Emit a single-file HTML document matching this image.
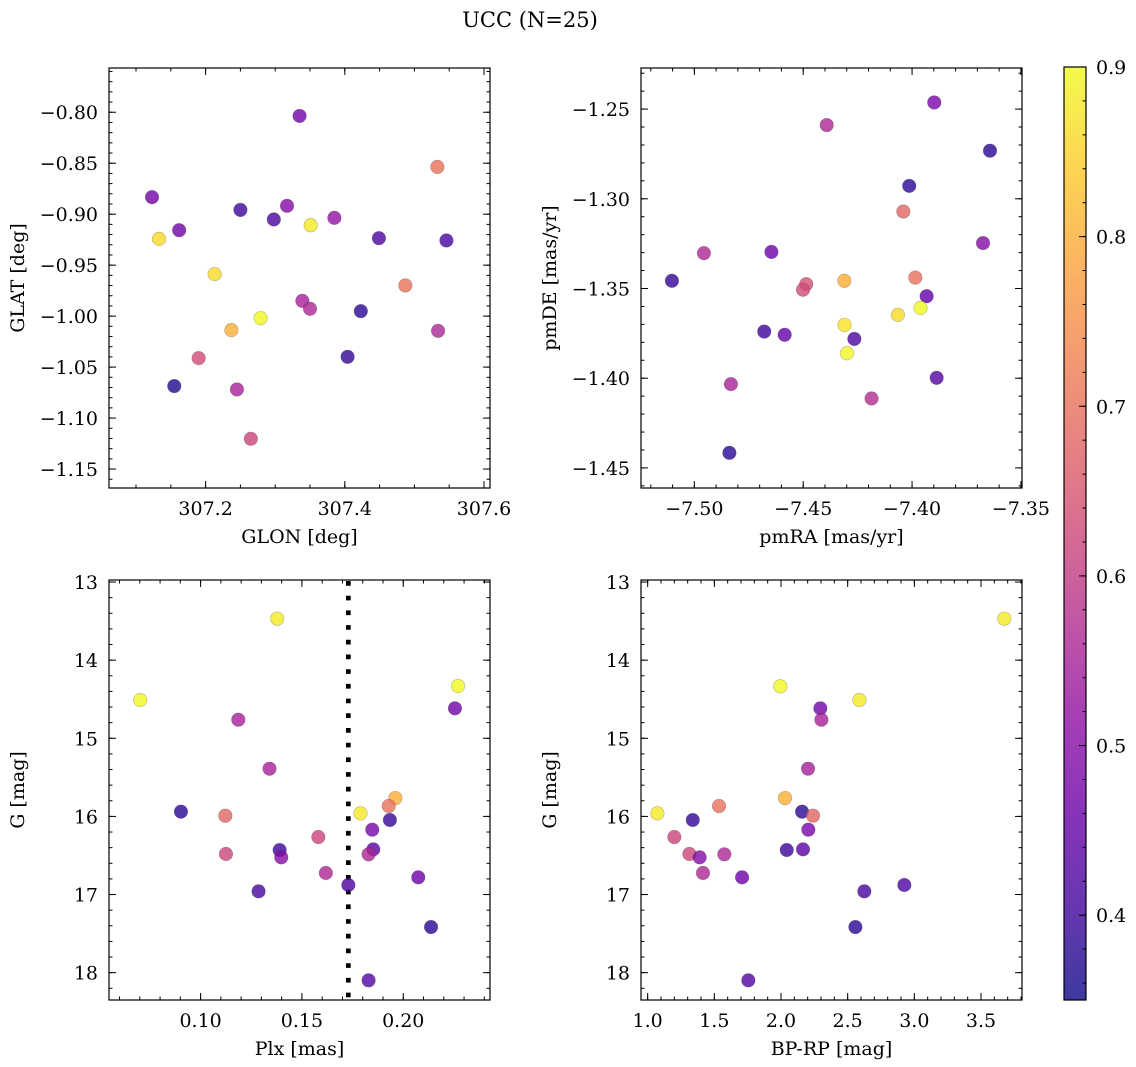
<!DOCTYPE html>
<html><head><meta charset="utf-8"><style>
html,body{margin:0;padding:0;background:#fff;}
svg{display:block;font-family:"DejaVu Serif","Liberation Serif",serif;}
</style></head><body>
<svg id="fig" width="1136" height="1067" viewBox="0 0 1136 1067" xmlns="http://www.w3.org/2000/svg">
<text x="530" y="27" font-size="21" text-anchor="middle">UCC (N=25)</text>
</svg>
<script>
// ---- data ----
const glon = [307.335,307.533,307.123,307.250,307.317,307.298,307.351,307.385,307.133,307.162,307.449,307.546,307.213,307.487,307.339,307.350,307.423,307.279,307.237,307.534,307.404,307.190,307.155,307.245,307.265];
const glat = [-0.8036,-0.8536,-0.8833,-0.8958,-0.8918,-0.9052,-0.9108,-0.9036,-0.9242,-0.9157,-0.9235,-0.9258,-0.9588,-0.9699,-0.9850,-0.9928,-0.9951,-1.0020,-1.0137,-1.0144,-1.0399,-1.0412,-1.0686,-1.0719,-1.1203];
const probPos = [0.47,0.70,0.47,0.40,0.50,0.42,0.88,0.52,0.86,0.47,0.42,0.41,0.86,0.70,0.55,0.56,0.38,0.90,0.80,0.56,0.39,0.63,0.37,0.55,0.62];

const pmra = [-7.3898,-7.4392,-7.3642,-7.4013,-7.4040,-7.3674,-7.4956,-7.4646,-7.5103,-7.4486,-7.4501,-7.4311,-7.3985,-7.3933,-7.3961,-7.4065,-7.4310,-7.4679,-7.4585,-7.4265,-7.4299,-7.3887,-7.4832,-7.4186,-7.4839];
const pmde = [-1.2463,-1.2589,-1.2732,-1.2928,-1.3071,-1.3247,-1.3303,-1.3296,-1.3457,-1.3476,-1.3507,-1.3457,-1.3439,-1.3543,-1.3608,-1.3647,-1.3703,-1.3740,-1.3758,-1.3781,-1.3861,-1.3998,-1.4033,-1.4113,-1.4416];
const probPm = [0.48,0.56,0.38,0.38,0.68,0.50,0.56,0.46,0.39,0.64,0.63,0.80,0.70,0.45,0.90,0.86,0.87,0.40,0.45,0.42,0.90,0.43,0.55,0.57,0.38];

const plx = [0.1378,0.0702,0.2270,0.2255,0.1186,0.1340,0.0903,0.1122,0.1961,0.1928,0.1789,0.1934,0.1847,0.1581,0.1125,0.1390,0.1398,0.1852,0.1829,0.1618,0.2074,0.1729,0.1286,0.2137,0.1829];
const gPlx = [13.469,14.510,14.331,14.617,14.762,15.389,15.939,15.991,15.765,15.867,15.961,16.046,16.170,16.264,16.481,16.430,16.524,16.422,16.485,16.724,16.780,16.878,16.959,17.416,18.098];
const probPlx = [0.88,0.90,0.90,0.47,0.55,0.55,0.38,0.68,0.80,0.70,0.88,0.39,0.48,0.62,0.62,0.40,0.50,0.44,0.56,0.56,0.46,0.42,0.41,0.38,0.43];
const plxMedian = 0.1729;

const bprp = [3.675,1.995,2.588,2.295,2.303,2.203,1.073,1.535,2.030,2.158,2.240,1.338,2.205,1.200,1.313,2.043,1.390,2.165,1.575,1.415,1.708,2.925,2.625,2.558,1.755];
const gCmd = [13.469,14.335,14.510,14.617,14.762,15.389,15.961,15.867,15.765,15.939,15.991,16.046,16.170,16.264,16.481,16.430,16.524,16.422,16.485,16.724,16.780,16.878,16.959,17.416,18.098];
const probCmd = [0.88,0.90,0.88,0.47,0.55,0.55,0.88,0.70,0.80,0.38,0.68,0.39,0.48,0.62,0.62,0.40,0.50,0.44,0.56,0.56,0.46,0.42,0.41,0.38,0.43];

const cbTicks = [0.4,0.5,0.6,0.7,0.8,0.9];
const cbMin = 0.35, cbMax = 0.9;

// ---- helpers ----
const NS = "http://www.w3.org/2000/svg";
const svg = document.getElementById('fig');
function mk(tag, attrs, parent){const e=document.createElementNS(NS,tag);for(const k in attrs)e.setAttribute(k,attrs[k]);(parent||svg).appendChild(e);return e;}
const plasmaStops = ["#0d0887","#41049d","#6a00a8","#8f0da4","#b12a90","#cc4778","#e16462","#f2844b","#fca636","#fcce25","#f0f921"];
function hex(h){return [parseInt(h.substr(1,2),16),parseInt(h.substr(3,2),16),parseInt(h.substr(5,2),16)];}
function plasma(t){t=Math.max(0,Math.min(1,t));const s=t*10;const i=Math.min(9,Math.floor(s));const f=s-i;const a=hex(plasmaStops[i]),b=hex(plasmaStops[i+1]);return "rgb("+a.map((v,k)=>Math.round(v+(b[k]-v)*f)).join(",")+")";}
function cmap(p){return plasma((p-cbMin)/(cbMax-cbMin));}
function fmt(v,d){const s=Math.abs(v).toFixed(d);return (v<0?"\u2212":"")+s;}
const FS = 19;

function panel(o){
  const g=mk('g',{});
  
  
  const X=v=>o.x0+(v-o.xmin)/(o.xmax-o.xmin)*(o.x1-o.x0);
  const Y=v=>o.yInv? o.y0+(v-o.ymin)/(o.ymax-o.ymin)*(o.y1-o.y0) : o.y1-(v-o.ymin)/(o.ymax-o.ymin)*(o.y1-o.y0);
  const eps=1e-9;
  function ticksAlong(axis, step, len, labels, dec){
    const lo=axis==='x'?o.xmin:Math.min(o.ymin,o.ymax), hi=axis==='x'?o.xmax:Math.max(o.ymin,o.ymax);
    let start=Math.ceil((lo-eps)/step)*step;
    for(let v=start; v<=hi+eps; v+=step){
      const vv=Math.round(v/step)*step;
      if(axis==='x'){const x=X(vv);
        mk('line',{x1:x,y1:o.y1,x2:x,y2:o.y1-len,stroke:'#000','stroke-width':1},g);
        mk('line',{x1:x,y1:o.y0,x2:x,y2:o.y0+len,stroke:'#000','stroke-width':1},g);
        if(labels){const t=mk('text',{x:x,y:o.y1+27,'font-size':FS,'text-anchor':'middle'},g);t.textContent=fmt(vv,dec);
          
          }
      } else {const y=Y(vv);
        mk('line',{x1:o.x0,y1:y,x2:o.x0+len,y2:y,stroke:'#000','stroke-width':1},g);
        mk('line',{x1:o.x1,y1:y,x2:o.x1-len,y2:y,stroke:'#000','stroke-width':1},g);
        if(labels){const t=mk('text',{x:o.x0-11,y:y+7,'font-size':FS,'text-anchor':'end'},g);t.textContent=fmt(vv,dec);
          
          }
      }
    }
  }
  ticksAlong('x',o.xminor,3.5,false);
  ticksAlong('x',o.xmajor,7,true,o.xdec);
  ticksAlong('y',o.yminor,3.5,false);
  ticksAlong('y',o.ymajor,7,true,o.ydec);
  if(o.vline!==undefined){
    const l=mk('line',{x1:X(o.vline),y1:o.y0+1,x2:X(o.vline),y2:o.y1,stroke:'#000','stroke-width':4.7,'stroke-dasharray':'4.7 10'},g);
    
    
  }
  for(let i=0;i<o.xs.length;i++){
    const c=mk('circle',{cx:X(o.xs[i]),cy:Y(o.ys[i]),r:6.8,fill:cmap(o.cs[i]),'fill-opacity':0.8,stroke:'rgba(60,60,60,0.35)','stroke-width':0.6},g);
    
    
  }
  const fr=mk('rect',{x:o.x0,y:o.y0,width:o.x1-o.x0,height:o.y1-o.y0,fill:'none',stroke:'#000','stroke-width':1.2},g);
  
  
  const xl=mk('text',{x:(o.x0+o.x1)/2,y:o.y1+55,'font-size':FS,'text-anchor':'middle'},g);xl.textContent=o.xlabel;
  
  
  const yx=o.x0-85, yy=(o.y0+o.y1)/2;
  const yl=mk('text',{x:yx,y:yy,'font-size':FS,'text-anchor':'middle',transform:'rotate(-90 '+yx+' '+yy+')'},g);yl.textContent=o.ylabel;
  
  
}

panel({name:'glon-glat-panel',x0:109,x1:490,y0:68,y1:488,xmin:307.0612,xmax:307.6086,ymin:-1.1686,ymax:-0.7566,
  xmajor:0.2,xminor:0.05,xdec:1,ymajor:0.05,yminor:0.01,ydec:2,xs:glon,ys:glat,cs:probPos,xlabel:'GLON [deg]',ylabel:'GLAT [deg]'});
panel({name:'pm-panel',x0:641,x1:1022,y0:68,y1:488,xmin:-7.5245,xmax:-7.3495,ymin:-1.4612,ymax:-1.2271,
  xmajor:0.05,xminor:0.01,xdec:2,ymajor:0.05,yminor:0.01,ydec:2,xs:pmra,ys:pmde,cs:probPm,xlabel:'pmRA [mas/yr]',ylabel:'pmDE [mas/yr]'});
panel({name:'plx-g-panel',x0:109,x1:490,y0:580,y1:1000,xmin:0.0548,xmax:0.2428,ymin:12.974,ymax:18.35,yInv:true,
  xmajor:0.05,xminor:0.01,xdec:2,ymajor:1,yminor:0.2,ydec:0,xs:plx,ys:gPlx,cs:probPlx,vline:plxMedian,xlabel:'Plx [mas]',ylabel:'G [mag]'});
panel({name:'cmd-panel',x0:641,x1:1022,y0:580,y1:1000,xmin:0.95,xmax:3.8075,ymin:12.974,ymax:18.35,yInv:true,
  xmajor:0.5,xminor:0.1,xdec:1,ymajor:1,yminor:0.2,ydec:0,xs:bprp,ys:gCmd,cs:probCmd,xlabel:'BP-RP [mag]',ylabel:'G [mag]'});

// ---- colorbar ----
(function(){
  const cx0=1064,cx1=1086,cy0=67,cy1=1000;
  const g=mk('g',{});
  
  
  const defs=mk('defs',{},g);
  const lg=mk('linearGradient',{id:'cbg',x1:0,y1:1,x2:0,y2:0},defs);
  for(let i=0;i<=20;i++){mk('stop',{offset:(i/20),'stop-color':plasma(i/20),'stop-opacity':0.8},lg);}
  mk('rect',{x:cx0,y:cy0,width:cx1-cx0,height:cy1-cy0,fill:'url(#cbg)'},g);
  const Y=v=>cy1-(v-cbMin)/(cbMax-cbMin)*(cy1-cy0);
  for(let k=0;k<=27;k++){const v=0.36+k*0.02; if(v>cbMax+1e-9)break; const y=Y(v);
    mk('line',{x1:cx1,y1:y,x2:cx1-3.5,y2:y,stroke:'#000','stroke-width':1},g);}
  cbTicks.forEach(v=>{const y=Y(v);
    mk('line',{x1:cx1,y1:y,x2:cx1-7,y2:y,stroke:'#000','stroke-width':1},g);
    const t=mk('text',{x:1096,y:y+7,'font-size':FS},g);t.textContent=v.toFixed(1);
    
    
  });
  mk('rect',{x:cx0,y:cy0,width:cx1-cx0,height:cy1-cy0,fill:'none',stroke:'#000','stroke-width':1.2},g);
})();
</script>
</body></html>
